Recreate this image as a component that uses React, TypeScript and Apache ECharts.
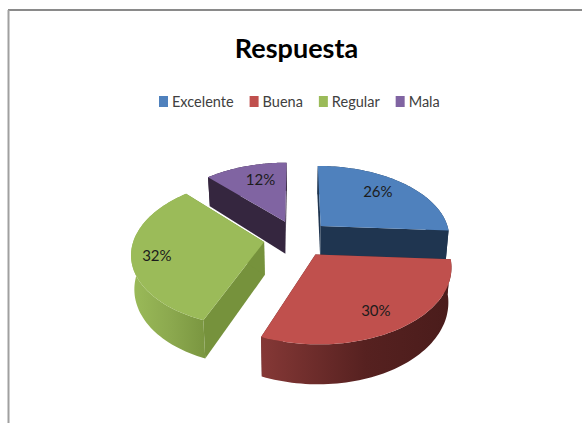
import React, { useEffect, useRef } from "react";
import * as echarts from "echarts";

const categories = ["Excelente", "Buena", "Regular", "Mala"];
const values = [26, 30, 32, 12];
const titleText = "Respuesta";

const topColors = ["#4F81BD", "#C0504D", "#9BBB59", "#8064A2"];
const radialWallColors = ["#1F3550", "#5A2322", "#76923C", "#35263F"];
const arcWallStops: [string, string, string][] = [
  ["#1F3550", "#1F3550", "#1F3550"],
  ["#853836", "#562120", "#4A1C1B"],
  ["#9BBB59", "#8BA84E", "#7A9640"],
  ["#35263F", "#35263F", "#35263F"],
];
const drawOrder = [1, 3, 2, 4];
const labelRadii = [0.7, 0.74, 0.81, 0.67];
const labelNudges = [[-2, -4], [0, 3], [0, 2], [3, -4]];

const geo = { cx: 297, cy: 238.4, rx: 130, ry: 72, explode: 0.256, persp: 7, depth: 33, shrink: 0.98 };

function project(U: number, V: number) {
  const s = geo.persp / (geo.persp - V);
  return { x: geo.cx + geo.rx * U * s, y: geo.cy + geo.ry * V * s, s };
}
function lower(p: { x: number; y: number; s: number }): number[] {
  return [geo.cx + (p.x - geo.cx) * geo.shrink, p.y + geo.depth * p.s];
}

function sliceChildren(index: number, value: number) {
  const total = values.reduce((a, b) => a + b, 0);
  const before = values.slice(0, index).reduce((a, b) => a + b, 0);
  const a0 = (before / total) * Math.PI * 2;
  const a1 = ((before + value) / total) * Math.PI * 2;
  const mid = (a0 + a1) / 2;
  const ox = geo.explode * Math.sin(mid);
  const oy = -geo.explode * Math.cos(mid);
  const at = (r: number, a: number) => project(ox + r * Math.sin(a), oy - r * Math.cos(a));
  const steps = 64;
  const arc: ReturnType<typeof project>[] = [];
  for (let i = 0; i <= steps; i++) arc.push(at(1, a0 + ((a1 - a0) * i) / steps));
  const apex = at(0, 0);
  const first = arc[0];
  const last = arc[steps];
  const top = [[apex.x, apex.y], ...arc.map((p) => [p.x, p.y])];
  const wallPoly = (a: typeof apex, b: typeof apex) => [[a.x, a.y], [b.x, b.y], lower(b), lower(a)];
  const arcWall = [...arc.map((p) => [p.x, p.y]), ...arc.slice().reverse().map(lower)];
  const stops = arcWallStops[index];
  const label = at(labelRadii[index], mid);
  return [
    { type: "polygon", silent: true, shape: { points: wallPoly(apex, first) }, style: { fill: radialWallColors[index] } },
    { type: "polygon", silent: true, shape: { points: wallPoly(apex, last) }, style: { fill: radialWallColors[index] } },
    {
      type: "polygon",
      silent: true,
      shape: { points: arcWall },
      style: {
        fill: {
          type: "linear", x: 0, y: 0, x2: 1, y2: 0,
          colorStops: [
            { offset: 0, color: stops[0] },
            { offset: 0.55, color: stops[1] },
            { offset: 1, color: stops[2] },
          ],
        },
      },
    },
    { type: "polygon", silent: true, shape: { points: top }, style: { fill: topColors[index] } },
    {
      type: "text",
      silent: true,
      x: label.x + labelNudges[index][0],
      y: label.y + labelNudges[index][1],
      style: {
        text: `${Math.round((value / total) * 100)}%`,
        align: "center",
        verticalAlign: "middle",
        fontFamily: "Lato",
        fontSize: 15,
        fill: "#1c1c1c",
      },
    },
  ];
}

export default function App() {
  const ref = useRef<HTMLDivElement>(null);
  useEffect(() => {
    const chart = echarts.init(ref.current!, undefined, { renderer: "svg" });
    chart.setOption({
      animation: false,
      backgroundColor: "#ffffff",
      color: topColors,
      title: {
        text: titleText,
        left: 291.5,
        textAlign: "center",
        top: 29,
        textStyle: { fontFamily: "Lato", fontWeight: "bold", fontSize: 27, color: "#000000" },
      },
      legend: {
        data: categories,
        left: 159,
        top: 94,
        padding: 0,
        icon: "rect",
        itemWidth: 9,
        itemHeight: 11,
        itemGap: 16,
        textStyle: { fontFamily: "Lato", fontSize: 14.5, color: "#404040", padding: [0, 0, 0, -1] },
        selectedMode: false,
      },
      graphic: [
        { type: "line", silent: true, shape: { x1: 8, y1: 10, x2: 582, y2: 10 }, style: { stroke: "#8a8a8a", lineWidth: 2 } },
        { type: "line", silent: true, shape: { x1: 8.5, y1: 10, x2: 8.5, y2: 423 }, style: { stroke: "#a0a0a0", lineWidth: 2 } },
      ],
      series: categories.map((name, i) => ({
        type: "custom",
        name,
        coordinateSystem: "none",
        z: drawOrder[i] + 2,
        silent: true,
        itemStyle: { color: topColors[i] },
        data: [values[i]],
        renderItem: (_p: unknown, api: any) => ({
          type: "group",
          children: sliceChildren(i, api.value(0)),
        }),
      })),
    });
    return () => chart.dispose();
  }, []);
  return <div ref={ref} style={{ position: "fixed", left: 0, top: 0, width: 582, height: 423 }} />;
}
